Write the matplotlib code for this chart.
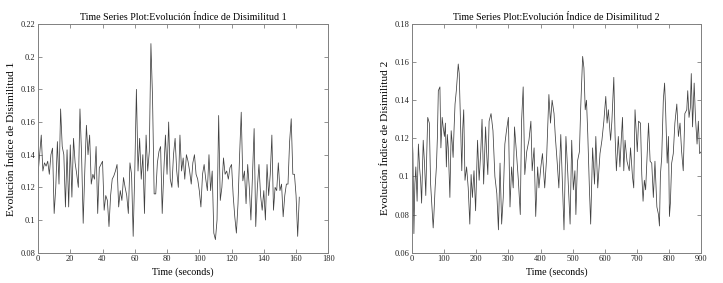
import matplotlib
matplotlib.use("Agg")
import matplotlib.pyplot as plt
from matplotlib.ticker import FuncFormatter, MultipleLocator

plt.rcParams['font.family'] = ['Liberation Serif', 'DejaVu Serif']

# ---- Series 1 (1 s sampling) ----
values1 = [
    0.128, 0.140, 0.152, 0.130, 0.135, 0.133, 0.136, 0.128, 0.140, 0.144,
    0.104, 0.120, 0.148, 0.122, 0.168, 0.145, 0.140, 0.108, 0.143, 0.108,
    0.146, 0.114, 0.150, 0.135, 0.128, 0.120, 0.168, 0.140, 0.098, 0.130,
    0.158, 0.140, 0.152, 0.122, 0.128, 0.125, 0.145, 0.104, 0.132, 0.134,
    0.136, 0.106, 0.115, 0.112, 0.096, 0.115, 0.125, 0.127, 0.130, 0.134,
    0.108, 0.118, 0.112, 0.126, 0.120, 0.115, 0.104, 0.135, 0.128, 0.090,
    0.130, 0.180, 0.130, 0.150, 0.125, 0.140, 0.104, 0.152, 0.130, 0.142,
    0.208, 0.175, 0.116, 0.116, 0.135, 0.142, 0.145, 0.104, 0.130, 0.152,
    0.128, 0.160, 0.125, 0.120, 0.140, 0.150, 0.130, 0.120, 0.152, 0.130,
    0.138, 0.125, 0.140, 0.136, 0.130, 0.122, 0.135, 0.140, 0.128, 0.125,
    0.118, 0.108, 0.128, 0.134, 0.125, 0.118, 0.140, 0.118, 0.130, 0.092,
    0.088, 0.100, 0.164, 0.112, 0.120, 0.138, 0.128, 0.130, 0.125, 0.132,
    0.134, 0.115, 0.102, 0.092, 0.110, 0.140, 0.166, 0.124, 0.130, 0.110,
    0.134, 0.120, 0.100, 0.128, 0.156, 0.096, 0.120, 0.134, 0.115, 0.106,
    0.118, 0.100, 0.134, 0.115, 0.128, 0.152, 0.106, 0.120, 0.118, 0.135,
    0.118, 0.122, 0.102, 0.115, 0.122, 0.122, 0.148, 0.162, 0.128, 0.128,
    0.115, 0.090, 0.114,
]
time1 = list(range(len(values1)))

# ---- Series 2 (read at irregular times) ----
time2 = [
    0, 3, 6, 9, 12, 16, 20, 24, 27, 30, 35, 39, 43, 46, 49, 54, 58, 62, 66, 68,
    72, 76, 79, 82, 87, 90, 94, 97, 101, 104, 107, 110, 113, 118, 122, 125, 128,
    131, 134, 138, 144, 147, 151, 155, 158, 161, 165, 170, 175, 180, 184, 188,
    193, 198, 204, 209, 214, 218, 223, 229, 233, 236, 240, 246, 252, 258, 264,
    269, 274, 279, 284, 289, 294, 300, 305, 310, 315, 319, 324, 331, 337, 341,
    346, 351, 357, 364, 370, 374, 380, 385, 391, 395, 401, 406, 413, 419, 426,
    431, 436, 442, 446, 452, 457, 463, 469, 473, 479, 485, 492, 497, 502, 507,
    510, 515, 521, 525, 531, 535, 539, 543, 547, 552, 556, 562, 568, 572, 578,
    585, 591, 597, 603, 607, 611, 618, 622, 628, 632, 636, 642, 647, 651, 655,
    659, 663, 669, 676, 680, 686, 690, 694, 701, 705, 711, 715, 719, 723, 727,
    732, 736, 741, 746, 751, 756, 762, 767, 770, 773, 777, 782, 786, 789, 794,
    798, 801, 804, 808, 813, 818, 824, 829, 834, 839, 844, 849, 855, 858, 862,
    866, 869, 873, 878, 882, 887, 891, 895, 900,
]
values2 = [
    0.124, 0.112, 0.070, 0.096, 0.105, 0.087, 0.117, 0.104, 0.098, 0.086,
    0.119, 0.107, 0.090, 0.112, 0.131, 0.128, 0.096, 0.084, 0.073, 0.079,
    0.094, 0.105, 0.120, 0.145, 0.147, 0.115, 0.131, 0.126, 0.121, 0.128,
    0.105, 0.122, 0.115, 0.089, 0.124, 0.118, 0.110, 0.125, 0.138, 0.145,
    0.159, 0.154, 0.128, 0.103, 0.125, 0.135, 0.098, 0.105, 0.094, 0.075,
    0.101, 0.089, 0.103, 0.082, 0.119, 0.098, 0.113, 0.130, 0.096, 0.126,
    0.110, 0.101, 0.129, 0.133, 0.124, 0.100, 0.091, 0.072, 0.107, 0.075,
    0.089, 0.117, 0.124, 0.131, 0.084, 0.105, 0.094, 0.126, 0.115, 0.098,
    0.080, 0.129, 0.147, 0.101, 0.113, 0.119, 0.129, 0.103, 0.115, 0.079,
    0.105, 0.094, 0.105, 0.112, 0.094, 0.110, 0.143, 0.128, 0.140, 0.133,
    0.121, 0.107, 0.094, 0.122, 0.091, 0.072, 0.121, 0.101, 0.075, 0.119,
    0.093, 0.103, 0.080, 0.108, 0.113, 0.136, 0.163, 0.157, 0.135, 0.140,
    0.122, 0.094, 0.075, 0.115, 0.096, 0.121, 0.094, 0.112, 0.119, 0.129,
    0.142, 0.128, 0.135, 0.119, 0.129, 0.152, 0.121, 0.103, 0.121, 0.105,
    0.119, 0.131, 0.103, 0.119, 0.108, 0.103, 0.115, 0.100, 0.094, 0.135,
    0.113, 0.129, 0.128, 0.101, 0.087, 0.098, 0.093, 0.112, 0.128, 0.108,
    0.107, 0.089, 0.108, 0.084, 0.080, 0.074, 0.101, 0.110, 0.140, 0.149,
    0.136, 0.107, 0.121, 0.079, 0.086, 0.107, 0.112, 0.128, 0.138, 0.121,
    0.128, 0.113, 0.103, 0.133, 0.135, 0.145, 0.131, 0.136, 0.154, 0.126,
    0.149, 0.131, 0.117, 0.129, 0.112, 0.113,
]

titles = ["Time Series Plot:Evolución Índice de Disimilitud 1",
          "Time Series Plot:Evolución Índice de Disimilitud 2"]
ylabels = ["Evolución Índice de Disimilitud 1",
           "Evolución Índice de Disimilitud 2"]
xlabel = "Time (seconds)"

fig = plt.figure(figsize=(7.23, 2.83), dpi=100)
ax1 = fig.add_axes([0.0526, 0.1071, 0.4015, 0.8081])
ax2 = fig.add_axes([0.5698, 0.1071, 0.4001, 0.8081])

fmt = FuncFormatter(lambda v, p: "%g" % round(v, 4))
spine_col = "#808080"

def style(ax, title, ylabel):
    ax.set_title(title, fontsize=7.2, pad=3)
    ax.set_ylabel(ylabel, fontsize=8.2, labelpad=3)
    ax.set_xlabel(xlabel, fontsize=7.2, labelpad=3)
    ax.tick_params(direction="in", top=True, right=True, length=3, width=0.6,
                   labelsize=6, colors="#222222", pad=2)
    for s in ax.spines.values():
        s.set_color(spine_col)
        s.set_linewidth(0.7)
    ax.tick_params(color=spine_col)
    ax.xaxis.set_major_formatter(fmt)
    ax.yaxis.set_major_formatter(fmt)

ax1.plot(time1, values1, color="#404040", lw=0.55)
ax1.set_xlim(0, 180)
ax1.set_ylim(0.08, 0.22)
ax1.xaxis.set_major_locator(MultipleLocator(20))
ax1.yaxis.set_major_locator(MultipleLocator(0.02))
style(ax1, titles[0], ylabels[0])

ax2.plot(time2, values2, color="#404040", lw=0.55)
ax2.set_xlim(0, 900)
ax2.set_ylim(0.06, 0.18)
ax2.xaxis.set_major_locator(MultipleLocator(100))
ax2.yaxis.set_major_locator(MultipleLocator(0.02))
style(ax2, titles[1], ylabels[1])

fig.savefig("out.png", dpi=100)
